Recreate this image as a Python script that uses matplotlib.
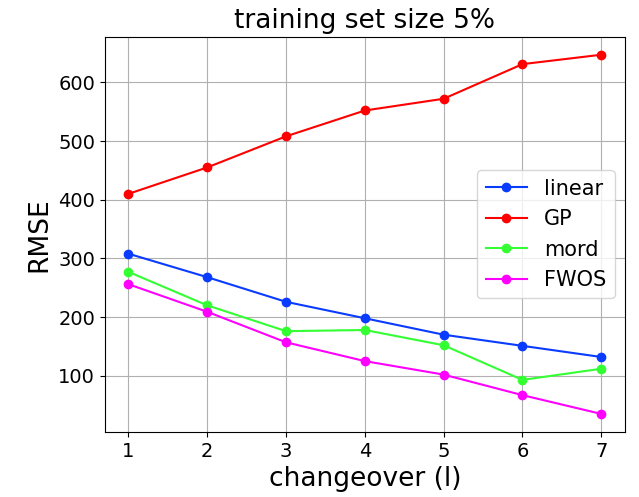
import matplotlib
matplotlib.use("Agg")
import matplotlib.pyplot as plt

# data
changeover = [1, 2, 3, 4, 5, 6, 7]
linear = [308, 268, 226, 198, 170, 151, 132]
gp = [410, 455, 508, 552, 572, 631, 647]
mord = [277, 220, 176, 178, 152, 93, 112]
fwos = [256, 209, 157, 125, 102, 67, 35]

fig = plt.figure(figsize=(6.39, 4.97), dpi=100)
ax = fig.add_axes([0.164, 0.131, 0.814, 0.795])

ax.plot(changeover, linear, marker="o", color="#0a3cff", label="linear")
ax.plot(changeover, gp, marker="o", color="#ff0000", label="GP")
ax.plot(changeover, mord, marker="o", color="#33ff33", label="mord")
ax.plot(changeover, fwos, marker="o", color="#ff00ff", label="FWOS")

ax.set_title("training set size 5%", fontsize=19)
ax.set_xlabel("changeover (l)", fontsize=19)
ax.set_ylabel("RMSE", fontsize=19)
ax.tick_params(labelsize=14)
ax.set_xticks(changeover)
ax.set_yticks([100, 200, 300, 400, 500, 600])
ax.grid(True)
ax.legend(loc="center right", fontsize=15)

fig.savefig("out.png", dpi=100)
